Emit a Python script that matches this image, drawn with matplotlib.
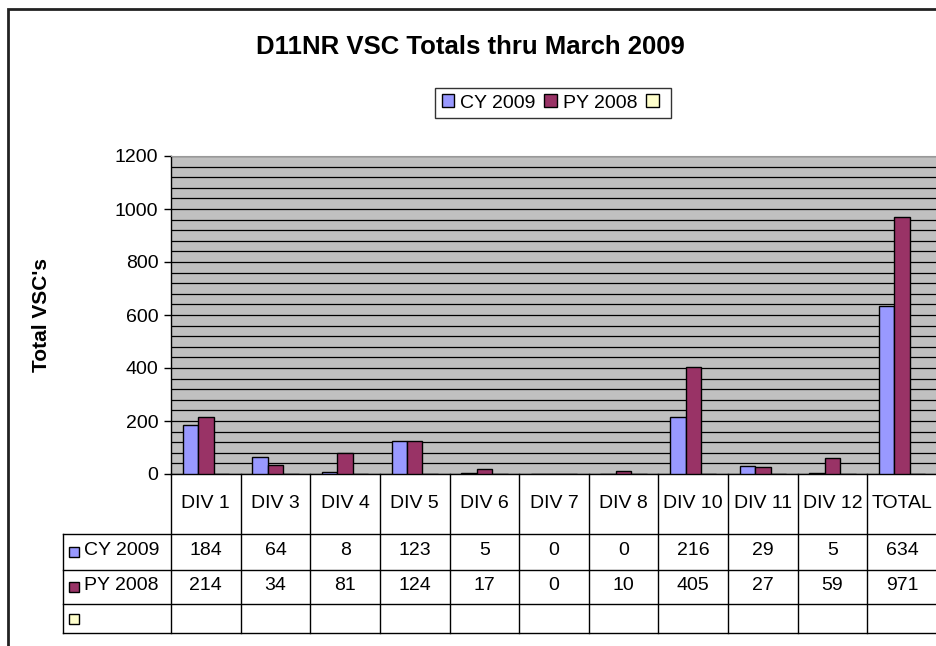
# D11NR VSC 柱状图 + 数据表
import matplotlib.pyplot as plt
import numpy as np
from matplotlib.patches import Rectangle
from matplotlib.transforms import blended_transform_factory

plt.rcParams['font.family'] = ['Liberation Sans', 'DejaVu Sans']

categories = ['DIV 1', 'DIV 3', 'DIV 4', 'DIV 5', 'DIV 6', 'DIV 7', 'DIV 8',
              'DIV 10', 'DIV 11', 'DIV 12', 'TOTAL']
cy_2009 = [184, 64, 8, 123, 5, 0, 0, 216, 29, 5, 634]
py_2008 = [214, 34, 81, 124, 17, 0, 10, 405, 27, 59, 971]
series_names = ['CY 2009', 'PY 2008', '']
colors = ['#9999FF', '#993366', '#FFFFCC']

FS = 14
W, H = 937, 646
fig = plt.figure(figsize=(W / 100, H / 100), dpi=100)
ax = fig.add_axes([171 / W, 1 - 474 / H, 766 / W, 318 / H])
ax.set_facecolor('#C0C0C0')

x = np.arange(len(categories))
bw = 1 / 4.5
series = [cy_2009, py_2008, [0] * len(categories)]
handles = []
for i, (vals, c) in enumerate(zip(series, colors)):
    h = ax.bar(x + (i - 1) * bw, vals, width=bw, color=c, edgecolor='black',
               linewidth=1, zorder=3)
    handles.append(h)

ax.set_xlim(-0.5, len(categories) - 0.5)
ax.set_ylim(0, 1200)
ax.set_yticks(np.arange(0, 1201, 200))
ax.set_yticks(np.arange(0, 1201, 40), minor=True)
ax.tick_params(axis='y', which='major', labelsize=FS, length=5, width=1, pad=4)
ax.tick_params(axis='y', which='minor', length=0)
ax.set_xticks([])
ax.grid(axis='y', which='both', color='black', linewidth=0.9, zorder=1)
ax.set_axisbelow(True)
for s in ['top', 'right']:
    ax.spines[s].set_color('#999999')
    ax.spines[s].set_linewidth(0.8)
ax.spines['left'].set_linewidth(1)
ax.spines['bottom'].set_linewidth(1)

# 数据表 (x: 数据坐标, y: 轴坐标)
tr = blended_transform_factory(ax.transData, ax.transAxes)
px = 69.64  # 每类宽度(像素)
x_left = -0.5 - (171 - 63) / px
rows_y = [0, -60 / 318, -96 / 318, -130 / 318, -159 / 318]
lk = dict(color='black', linewidth=1, transform=tr, clip_on=False)
for xb in np.arange(-0.5, len(categories), 1.0):
    ax.plot([xb, xb], [0, rows_y[-1]], **lk)
ax.plot([x_left, x_left], [rows_y[1], rows_y[-1]], **lk)
for yb in rows_y[1:]:
    ax.plot([x_left, len(categories) - 0.5], [yb, yb], **lk)

for i, cat in enumerate(categories):
    ax.text(i, (rows_y[0] + rows_y[1]) / 2, cat, ha='center', va='center',
            fontsize=FS, transform=tr)
    for r, vals in enumerate(series[:2]):
        ax.text(i, (rows_y[r + 1] + rows_y[r + 2]) / 2 + 0.005, str(vals[i]),
                ha='center', va='center', fontsize=FS, transform=tr)

for r in range(3):
    yc = (rows_y[r + 1] + rows_y[r + 2]) / 2
    ax.add_patch(Rectangle((x_left + 6 / px, yc - 5 / 318), 10 / px, 10 / 318,
                           facecolor=colors[r], edgecolor='black', linewidth=1,
                           transform=tr, clip_on=False))
    ax.text(x_left + 21 / px, yc + 0.005, series_names[r], ha='left', va='center',
            fontsize=FS, transform=tr)

leg = fig.legend(handles, series_names, loc='center',
                 bbox_to_anchor=(553 / W, 1 - 103 / H), ncol=3, fontsize=FS,
                 frameon=True, fancybox=False, edgecolor='black',
                 handlelength=0.65, handleheight=0.65, handletextpad=0.3,
                 columnspacing=0.45, borderpad=0.35)
leg.get_frame().set_linewidth(1)

fig.text(470 / W, 1 - 47 / H, 'D11NR VSC Totals thru March 2009', ha='center',
         va='center', fontsize=18.5, fontweight='bold')
fig.text(42 / W, 1 - 315 / H, "Total VSC's", ha='center', va='center',
         rotation=90, fontsize=15, fontweight='bold')

fig.patches.append(Rectangle((8 / W, -0.1), 1.2, 1 - 9 / H + 0.1, fill=False,
                             edgecolor='#222222', linewidth=2,
                             transform=fig.transFigure, figure=fig))

fig.savefig('out.png', dpi=100)
